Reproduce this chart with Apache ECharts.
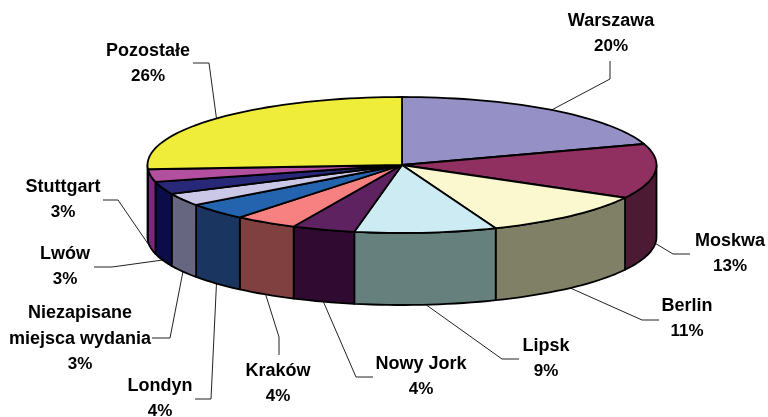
<!DOCTYPE html>
<html>
<head>
<meta charset="utf-8">
<script src="https://cdn.jsdelivr.net/npm/echarts@6/dist/echarts.min.js"></script>
<style>
  html, body { margin: 0; padding: 0; background: #fff; }
  #chart { width: 768px; height: 417px; }
</style>
</head>
<body>
<div id="chart"></div>
<script>
// dane
const cities = ['Warszawa', 'Moskwa', 'Berlin', 'Lipsk', 'Nowy Jork', 'Kraków', 'Londyn', 'Niezapisane\nmiejsca wydania', 'Lwów', 'Stuttgart', 'Pozostałe']
const shares = [20, 13, 11, 9, 4, 4, 4, 3, 3, 3, 26]

// kolory
const topColors = ['#9590c6', '#903060', '#fbf7cf', '#ccebf2', '#5f2260', '#f78080', '#2464ae', '#cac8e6', '#272877', '#b24f9f', '#f0ec3a']
const sideColors = ['#4b4863', '#4c1a33', '#808066', '#66807e', '#300a30', '#804040', '#1a3660', '#666680', '#0c0c48', '#7a2a7c', '#7a7820']

// uklad opisow: srodek tekstu i punkty linii odniesienia
const labelBoxes = [
  { x: 611, y: 34, line: [[610, 61], [610, 79]], onSide: false },
  { x: 730, y: 254, line: [[690, 254], [673, 254]], onSide: true },
  { x: 687, y: 319, line: [[659, 320], [642, 320]], onSide: true },
  { x: 546, y: 359, line: [[519, 359], [502, 359]], onSide: true },
  { x: 421, y: 377, line: [[373, 377], [356, 377]], onSide: true },
  { x: 278, y: 384, line: [[279, 355], [279, 337]], onSide: true },
  { x: 160, y: 399, line: [[195, 399], [211, 399]], onSide: true },
  { x: 80, y: 339, line: [[152, 338], [170, 338]], onSide: true },
  { x: 65, y: 267, line: [[94, 267], [112, 267]], onSide: true },
  { x: 63, y: 200, line: [[103, 200], [118, 200]], onSide: true },
  { x: 148, y: 64, line: [[193, 63], [209, 63]], onSide: false }
]

const pie = { cx: 402, cy: 165, rx: 254.5, ry: 68, depth: 72 }
const total = shares.reduce((a, b) => a + b, 0)

// katy liczone od godziny 12, zgodnie z ruchem wskazowek
const angleAt = index => shares.slice(0, index).reduce((a, b) => a + b, 0) / total * 360
const rimPoint = (deg, drop = 0) => {
  const rad = deg * Math.PI / 180
  return [pie.cx + pie.rx * Math.sin(rad), pie.cy - pie.ry * Math.cos(rad) + drop]
}
const arc = (from, to, drop = 0) => {
  const points = []
  const steps = Math.max(2, Math.ceil(Math.abs(to - from) / 2))
  for (let i = 0; i <= steps; i++) {
    points.push(rimPoint(from + (to - from) * i / steps, drop))
  }
  return points
}

const renderSide = (params, api) => {
  const index = api.value(0)
  const from = Math.max(angleAt(index), 90)
  const to = Math.min(angleAt(index + 1), 270)
  if (to <= from) return null
  return {
    type: 'polygon',
    shape: { points: arc(from, to).concat(arc(to, from, pie.depth)) },
    style: { fill: sideColors[index], stroke: '#000', lineWidth: 1.8, lineJoin: 'round' }
  }
}

const renderTop = (params, api) => {
  const index = api.value(0)
  return {
    type: 'polygon',
    shape: { points: [[pie.cx, pie.cy]].concat(arc(angleAt(index), angleAt(index + 1))) },
    style: { fill: topColors[index], stroke: '#000', lineWidth: 1.8, lineJoin: 'round' }
  }
}

const labelFont = { fontFamily: '"Liberation Sans", Arial, sans-serif', fontWeight: 'bold', lineHeight: 25.5, fill: '#000' }

const renderLabel = (params, api) => {
  const index = api.value(0)
  const box = labelBoxes[index]
  const mid = (angleAt(index) + angleAt(index + 1)) / 2
  const nameLines = cities[index].split('\n').map(line => `{name|${line}}`)
  return {
    type: 'group',
    children: [
      {
        type: 'polyline',
        shape: { points: box.line.concat([rimPoint(mid, box.onSide ? pie.depth : 0)]) },
        style: { fill: 'none', stroke: '#222', lineWidth: 1 }
      },
      {
        type: 'text',
        style: {
          x: box.x,
          y: box.y,
          text: nameLines.concat(`{share|${api.value(1)}%}`).join('\n'),
          align: 'center',
          verticalAlign: 'middle',
          rich: {
            name: { ...labelFont, fontSize: 18, align: 'center' },
            share: { ...labelFont, fontSize: 17, align: 'center' }
          }
        }
      }
    ]
  }
}

const seriesData = shares.map((value, index) => [index, value])
const customSeries = (renderItem, z) => ({
  type: 'custom',
  coordinateSystem: 'none',
  silent: true,
  animation: false,
  clip: false,
  z,
  data: seriesData,
  renderItem
})

const chart = echarts.init(document.getElementById('chart'), null, { renderer: 'canvas' })
chart.setOption({
  backgroundColor: '#fff',
  animation: false,
  series: [customSeries(renderLabel, 1), customSeries(renderSide, 2), customSeries(renderTop, 3)]
})
</script>
</body>
</html>
